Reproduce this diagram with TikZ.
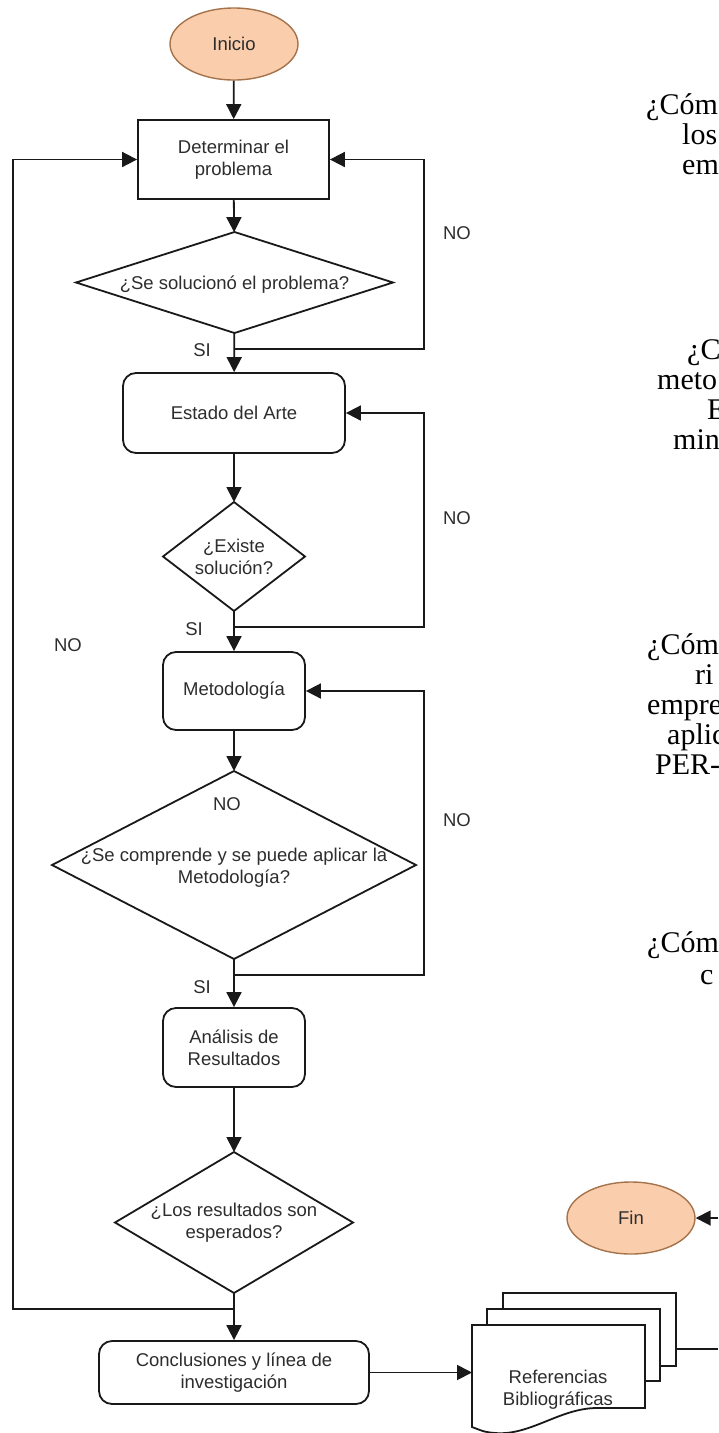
\documentclass[tikz,border=0pt]{standalone}
\usepackage{fontspec}
\setmainfont{Liberation Sans}
\newfontfamily\serifq{Liberation Serif}
\usetikzlibrary{shapes.geometric,arrows.meta}
\definecolor{termfill}{RGB}{250,206,172}
\definecolor{termdraw}{RGB}{165,115,75}
\definecolor{txt}{RGB}{45,45,45}
\begin{document}
\begin{tikzpicture}[x=1pt,y=-1pt,
  every node/.style={font=\fontsize{18.5}{22}\selectfont, text=txt},
  line/.style={line width=1.8pt, draw=black!90},
  arr/.style={line, -{Triangle[length=15pt,width=15pt]}},
  term/.style={ellipse, draw=termdraw, fill=termfill, line width=1.4pt,
    minimum width=128pt, minimum height=72pt, inner sep=0pt},
  procbox/.style={rectangle, line, fill=white, inner sep=0pt, align=center},
  roundbox/.style={procbox, rounded corners=13pt},
  decision/.style={diamond, line, inner sep=0pt, outer sep=0pt},
  tag/.style={inner sep=0pt, align=center},
  question/.style={font=\serifq\fontsize{30}{30}\selectfont, text=black,
    anchor=mid west, inner sep=0pt}
]
\useasboundingbox (0,0) rectangle (718,1433);

% main column
\node[term] (ini) at (234,44) {Inicio};
\node[procbox, minimum width=191pt, minimum height=79pt] (det) at (233.5,159.5) {Determinar el\\problema};
\node[decision, minimum width=317pt, minimum height=101pt,
  label={[tag,yshift=-2pt]center:¿Se solucionó el problema?}] (d1) at (234.5,282.5) {};
\node[roundbox, minimum width=222pt, minimum height=80pt] (est) at (234,413) {Estado del Arte};
\node[decision, minimum width=142pt, minimum height=109pt,
  label={[tag]center:¿Existe\\solución?}] (d2) at (234,556.5) {};
\node[roundbox, minimum width=142pt, minimum height=78pt] (met) at (234,691) {Metodología};
\node[decision, minimum width=364pt, minimum height=188pt,
  label={[tag,yshift=-3pt]center:¿Se comprende y se puede aplicar la\\Metodología?}] (d3) at (234,865) {};
\node[tag] (noin) at (227,804) {NO};
\node[roundbox, minimum width=142pt, minimum height=79pt] (ana) at (234,1047.5) {Análisis de\\Resultados};
\node[decision, minimum width=238pt, minimum height=141pt,
  label={[tag]center:¿Los resultados son\\esperados?}] (d4) at (234,1222.5) {};
\node[roundbox, minimum width=270pt, minimum height=63pt] (conc) at (234,1372.5) {Conclusiones y línea de\\investigación};

% end terminal
\node[term] (fin) at (631,1218) {Fin};

% stacked documents
\filldraw[line, fill=white] (503,1293) rectangle (676,1366);
\filldraw[line, fill=white] (487,1309) rectangle (660,1381);
\filldraw[line, fill=white] (472,1325) -- (645,1325) -- (645,1408) -- (597,1408)
  .. controls (560,1408) and (530,1436) .. (495,1433)
  .. controls (485,1432) .. (472,1427) -- cycle;
\node[tag] (refs) at (558,1390) {Referencias\\Bibliográficas};

% junctions and routing points
\coordinate (j1) at (234,349);
\coordinate (j2) at (234,627);
\coordinate (j3) at (234,975);
\coordinate (j4) at (234,1309);
\coordinate (rl) at (424,0);
\coordinate (ll) at (13,0);
\coordinate (docin) at (472,1373);
\coordinate (docout) at (676,1349);
\coordinate (edgeA) at (718,1349);
\coordinate (edgeB) at (718,1218);

% connectors
\draw[arr] (ini) -- (det);
\draw[arr] (det) -- (d1);
\draw[arr] (d1) -- (est);
\draw[arr] (j1) -| (rl |- det) -- (det);
\draw[arr] (est) -- (d2);
\draw[arr] (d2) -- (met);
\draw[arr] (j2) -| (rl |- est) -- (est);
\draw[arr] (met) -- (d3);
\draw[arr] (d3) -- (ana);
\draw[arr] (j3) -| (rl |- met) -- (met);
\draw[arr] (ana) -- (d4);
\draw[arr] (d4) -- (conc);
\draw[arr] (j4) -| (ll |- det) -- (det);
\draw[arr] (conc.east) -- (conc.east -| docin);
\draw[line] (docout) -- (edgeA);
\draw[arr] (edgeB) -- (fin);

% branch labels
\node[tag] (si1) at (202,350) {SI};
\node[tag] (si2) at (194,629) {SI};
\node[tag] (si3) at (202,987) {SI};
\node[tag] (no1) at (457,233) {NO};
\node[tag] (no2) at (457,518) {NO};
\node[tag] (no3) at (457,820) {NO};
\node[tag] (no4) at (68,645) {NO};

% research questions column
\node[question] (q1a) at (646,112) {¿Cóm};
\node[question] (q1b) at (682,142) {los};
\node[question] (q1c) at (682,172) {em};
\node[question] (q2a) at (687,357) {¿C};
\node[question] (q2b) at (657,387) {meto};
\node[question] (q2c) at (707,417) {E};
\node[question] (q2d) at (673,447) {min};
\node[question] (q3a) at (647,652) {¿Cóm};
\node[question] (q3b) at (695,682) {ri};
\node[question] (q3c) at (647,712) {empre};
\node[question] (q3d) at (667,742) {aplic};
\node[question] (q3e) at (655,772) {PER-};
\node[question] (q4a) at (647,950) {¿Cóm};
\node[question] (q4b) at (700,982) {c};
\end{tikzpicture}
\end{document}
